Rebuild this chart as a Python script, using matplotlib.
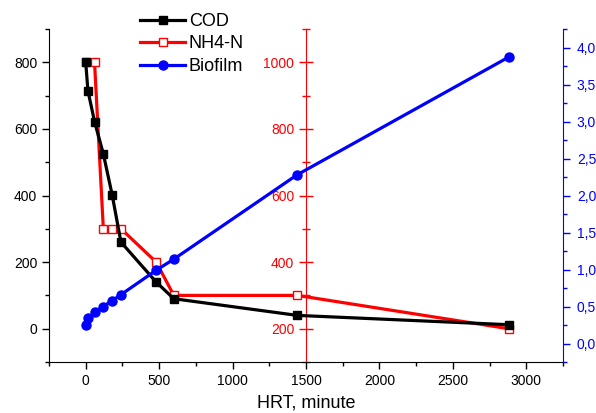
import matplotlib.pyplot as plt
from matplotlib.ticker import MultipleLocator, FuncFormatter

plt.rcParams['font.family'] = ['Liberation Sans', 'DejaVu Sans']

# Data
hrt = [0, 15, 60, 120, 180, 240, 480, 600, 1440, 2880]
cod = [800, 715, 622, 525, 402, 260, 140, 90, 40, 12]

hrt_nh4 = [0, 60, 120, 180, 240, 480, 600, 1440, 2880]
nh4 = [1000, 1000, 500, 500, 500, 400, 300, 300, 200]

biofilm = [0.25, 0.34, 0.42, 0.50, 0.58, 0.66, 0.99, 1.14, 2.28, 3.87]

fig = plt.figure(figsize=(5.96, 4.13), dpi=100)
ax = fig.add_axes([49 / 596, 1 - 362 / 413, (563 - 49) / 596, (362 - 29) / 413])
ax_n = ax.twinx()
ax_b = ax.twinx()

# draw order: red under black, blue on top
ax_n.set_zorder(1)
ax.set_zorder(2)
ax_b.set_zorder(3)
ax.patch.set_visible(False)
ax_n.patch.set_visible(False)
ax_b.patch.set_visible(False)

l_nh4, = ax_n.plot(hrt_nh4, nh4, color='red', lw=2.3, marker='s', ms=5.5,
                   mfc='white', mec='red', mew=1.0, label='NH4-N')
l_cod, = ax.plot(hrt, cod, color='black', lw=2.3, marker='s', ms=5.5, label='COD')
l_bio, = ax_b.plot(hrt, biofilm, color='blue', lw=2.3, marker='o', ms=6.5, label='Biofilm')

# main axes (COD)
ax.set_xlim(-250, 3250)
ax.set_ylim(-100, 900)
ax.xaxis.set_major_locator(MultipleLocator(500))
ax.xaxis.set_minor_locator(MultipleLocator(250))
ax.yaxis.set_major_locator(MultipleLocator(200))
ax.yaxis.set_minor_locator(MultipleLocator(100))
ax.spines['top'].set_visible(False)
ax.spines['right'].set_visible(False)
ax.tick_params(which='major', direction='out', length=5, width=1, labelsize=10)
ax.tick_params(which='minor', direction='out', length=3, width=1)
ax.set_xlabel('HRT, minute', fontsize=13, labelpad=5)

# NH4-N axis in the middle of the plot, at x = 1500
ax_n.set_ylim(100, 1100)
for s in ['top', 'right', 'bottom']:
    ax_n.spines[s].set_visible(False)
ax_n.spines['left'].set_visible(True)
ax_n.spines['left'].set_position(('axes', 0.5))
ax_n.spines['left'].set_color('red')
ax_n.yaxis.set_ticks_position('left')
ax_n.yaxis.set_label_position('left')
ax_n.yaxis.set_major_locator(MultipleLocator(200))
ax_n.yaxis.set_minor_locator(MultipleLocator(100))
ax_n.tick_params(axis='y', which='major', direction='inout', length=10, width=1,
                 colors='red', labelsize=10)
ax_n.tick_params(axis='y', which='minor', direction='inout', length=6, width=1, colors='red')

# Biofilm axis on the right
ax_b.set_ylim(-0.25, 4.25)
for s in ['top', 'left', 'bottom']:
    ax_b.spines[s].set_visible(False)
ax_b.spines['right'].set_color('blue')
ax_b.yaxis.set_major_locator(MultipleLocator(0.5))
ax_b.yaxis.set_minor_locator(MultipleLocator(0.25))
ax_b.yaxis.set_major_formatter(FuncFormatter(lambda v, p: f'{v:.1f}'.replace('.', ',')))
ax_b.tick_params(axis='y', which='major', direction='out', length=5, width=1,
                 colors='blue', labelsize=10, pad=5)
ax_b.tick_params(axis='y', which='minor', direction='out', length=3, width=1, colors='blue')

fig.legend(handles=[l_cod, l_nh4, l_bio], loc='upper left',
           bbox_to_anchor=(140 / 596, 1 - 13 / 413), frameon=False, fontsize=13,
           handlelength=2.5, handletextpad=0.2, labelspacing=0.3,
           borderpad=0, borderaxespad=0)

fig.savefig('out.png', dpi=100)
